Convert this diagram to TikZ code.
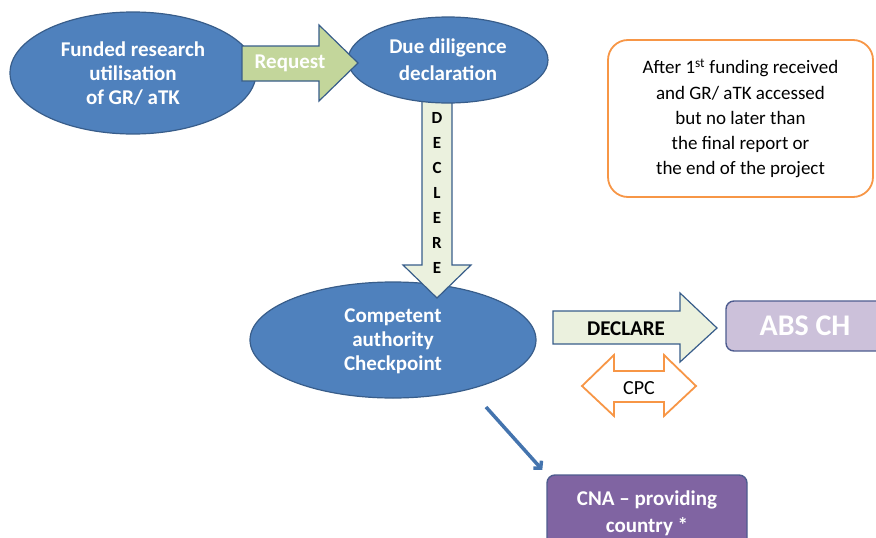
\documentclass[tikz,border=0pt]{standalone}
\usepackage{fontspec}
\setmainfont{Carlito}
\usetikzlibrary{shapes.geometric,arrows.meta}

\definecolor{ellblue}{HTML}{4F81BD}
\definecolor{ellline}{HTML}{385D8A}
\definecolor{reqgreen}{HTML}{C3D69B}
\definecolor{declfill}{HTML}{EBF1DE}
\definecolor{noteorange}{HTML}{F79646}
\definecolor{abslilac}{HTML}{CCC1DA}
\definecolor{cnapurple}{HTML}{8064A2}
\definecolor{boxline}{HTML}{4E5C8F}
\definecolor{connblue}{HTML}{4474AE}

\tikzset{
  bubble/.style={ellipse, draw=ellline, line width=1.2pt, fill=ellblue, inner sep=0pt,
    text depth=0pt, text=white, align=center, font=\fontsize{21}{24}\selectfont\bfseries},
  blockarrow/.style={draw=ellline, line width=1.2pt, line join=miter},
  chbox/.style={rectangle, rounded corners=8, draw=boxline, line width=1.4pt, inner sep=0pt,
    text depth=0pt, text=white, align=center, font=\bfseries}
}

\begin{document}
\begin{tikzpicture}[x=1pt,y=-1pt]
    \useasboundingbox (0,0) rectangle (876,538);

    %% the three ellipses of the flow
    \node[bubble, minimum width=246, minimum height=122] (funded) at (133,73)
        {Funded research\\utilisation\\of GR/ aTK};
    \node[bubble, minimum width=286, minimum height=116] (cap) at (393,340)
        {Competent\\authority\\Checkpoint};

    %% declare downwards (behind the top ellipse)
    \draw[blockarrow, fill=declfill] (422,90) -- (452,90) -- (452,265) -- (471,265) -- (437,298)
        -- (403,265) -- (422,265) -- cycle;
    \node[font=\fontsize{17}{25}\selectfont\bfseries, align=center] (declere) at (437,193)
        {D\\E\\C\\L\\E\\R\\E};

    \node[bubble, minimum width=200, minimum height=86,
          font=\fontsize{21}{27}\selectfont\bfseries] (due) at (448,60) {Due diligence\\declaration};

    %% request arrow between the two top ellipses
    \draw[blockarrow, fill=reqgreen] (242,46) -- (319,46) -- (319,25) -- (358,63) -- (319,101)
        -- (319,81) -- (242,81) -- cycle;
    \node[text=white, font=\fontsize{21}{24}\selectfont\bfseries] (request) at (290,63) {Request};

    %% declare to the clearing house
    \draw[blockarrow, fill=declfill] (553,311) -- (680,311) -- (680,293) -- (717,328) -- (680,362)
        -- (680,344) -- (553,344) -- cycle;
    \node[font=\fontsize{21}{24}\selectfont\bfseries] (declare) at (626,329) {DECLARE};

    \node[chbox, fill=abslilac, minimum width=158, minimum height=50,
          font=\fontsize{30}{34}\selectfont\bfseries] (absch) at (805,326) {ABS CH};

    %% CPC double arrow
    \draw[draw=noteorange, line width=1.8pt, fill=white, line join=miter] (582,386) -- (614,355)
        -- (614,371) -- (664,371) -- (664,355) -- (696,386) -- (664,416) -- (664,402)
        -- (614,402) -- (614,416) -- cycle;
    \node[font=\fontsize{20}{24}\selectfont] (cpc) at (639,388) {CPC};

    %% note in the top right corner
    \node[rectangle, rounded corners=20, draw=noteorange, line width=1.8pt, fill=white,
          minimum width=265, minimum height=157, align=center,
          font=\fontsize{19}{25.2}\selectfont] (note) at (740.5,118.5)
        {After 1\textsuperscript{st} funding received\\and GR/ aTK accessed\\but no later than\\the final report or\\the end of the project};

    %% providing country
    \node[chbox, fill=cnapurple, minimum width=200, minimum height=73,
          font=\fontsize{21}{27}\selectfont\bfseries] (cna) at (647,511.5) {CNA -- providing\\country *};

    \coordinate (capout) at (486,407);
    \draw[connblue, line width=3.5pt, shorten >=6pt, -{Straight Barb[length=5pt,width=11pt]}]
        (capout) -- (cna.north west);
\end{tikzpicture}
\end{document}
